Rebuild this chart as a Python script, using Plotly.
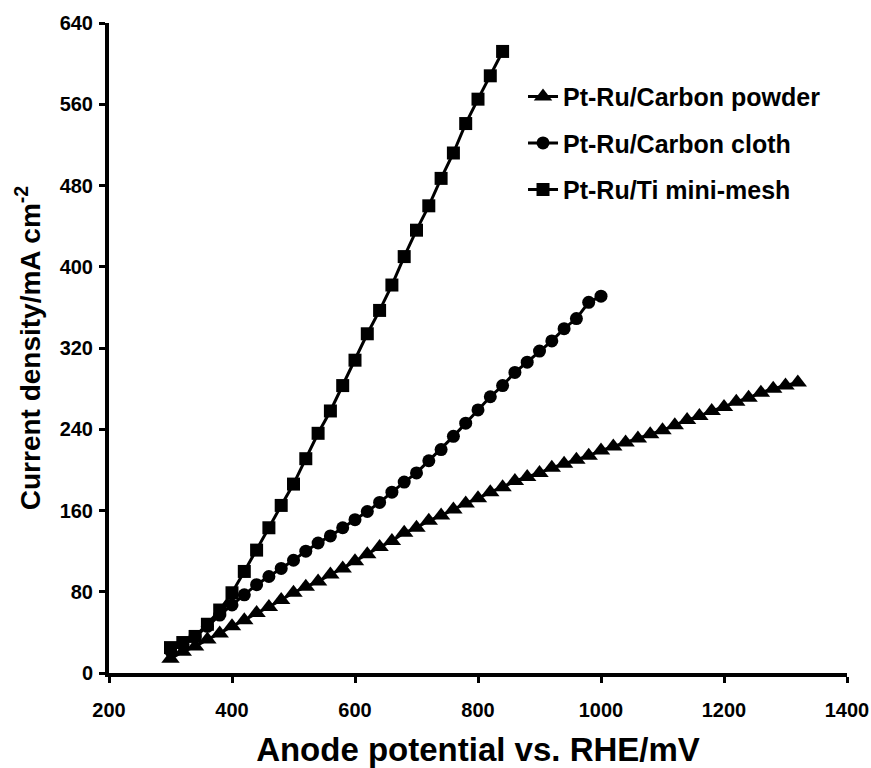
import plotly.graph_objects as go

# Anode potential (mV vs. RHE) and current density (mA cm^-2) for each electrode
powder_mv = list(range(300, 1321, 20))
powder_j = [14, 21, 26, 33, 39, 46, 52, 59, 65, 72, 79, 85, 90, 97, 103, 110, 117,
            124, 130, 138, 143, 150, 155, 161, 167, 172, 178, 183, 189, 193, 197,
            202, 206, 210, 214, 219, 223, 227, 231, 235, 239, 244, 249, 253, 258,
            262, 267, 271, 276, 280, 283, 286]

cloth_mv = list(range(300, 1001, 20))
cloth_j = [22, 28, 36, 46, 57, 67, 77, 87, 95, 103, 111, 120, 128, 135, 143, 151,
           159, 168, 178, 188, 197, 209, 220, 233, 246, 259, 272, 283, 296, 306,
           317, 327, 339, 349, 365, 371]

mesh_mv = list(range(300, 841, 20))
mesh_j = [25, 30, 36, 48, 62, 79, 100, 121, 143, 165, 186, 211, 236, 258, 283, 308,
          334, 357, 382, 410, 436, 460, 487, 512, 541, 565, 588, 612]

series = [
    ("Pt-Ru/Carbon powder", powder_mv, powder_j, "triangle-up", 16),
    ("Pt-Ru/Carbon cloth", cloth_mv, cloth_j, "circle", 13),
    ("Pt-Ru/Ti mini-mesh", mesh_mv, mesh_j, "square", 13),
]

x_ticks = [200, 400, 600, 800, 1000, 1200, 1400]
y_ticks = [0, 80, 160, 240, 320, 400, 480, 560, 640]

FONT = "Liberation Sans, Arial, sans-serif"

fig = go.Figure()
for i, (name, xs, ys, sym, size) in enumerate(series):
    fig.add_trace(go.Scatter(
        x=xs, y=ys, name=name, mode="lines+markers",
        line=dict(color="black", width=3),
        marker=dict(symbol=sym, size=size, color="black"),
        legendgroup=f"g{i}", cliponaxis=False,
    ))

axis_common = dict(
    showline=True, linewidth=4, linecolor="black",
    ticks="outside", ticklen=6, tickwidth=3, tickcolor="black",
    showgrid=False, zeroline=False, automargin=False,
    tickfont=dict(family=FONT, size=20, color="black", weight="bold"),
)

fig.update_layout(
    width=871, height=768,
    margin=dict(l=109, r=24, t=23, b=95),
    paper_bgcolor="white", plot_bgcolor="white",
    xaxis=dict(range=[200, 1400], tickvals=x_ticks, ticklabelstandoff=10, **axis_common,
               title=dict(text="Anode potential vs. RHE/mV", standoff=20,
                          font=dict(family=FONT, size=33, color="black", weight="bold"))),
    yaxis=dict(range=[0, 640], tickvals=y_ticks, ticklabelstandoff=2, **axis_common,
               title=dict(text="Current density/mA cm<sup>-2</sup>", standoff=12,
                          font=dict(family=FONT, size=28, color="black", weight="bold"))),
    legend=dict(x=0.561, y=0.922, xanchor="left", yanchor="top",
                tracegroupgap=11, bgcolor="rgba(0,0,0,0)",
                font=dict(family=FONT, size=25, color="black", weight="bold")),
    showlegend=True,
)

fig.write_html("out.html")
